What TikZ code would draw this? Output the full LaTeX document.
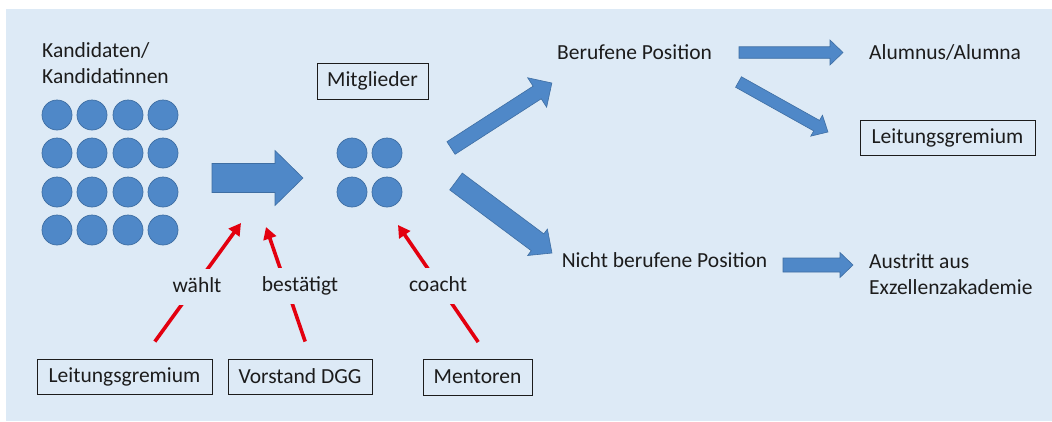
\documentclass[tikz,border=0pt]{standalone}
\usepackage{fontspec}
\setmainfont{Carlito}
\usetikzlibrary{arrows.meta}
\pgfdeclarelayer{back}\pgfdeclarelayer{mid}
\pgfsetlayers{back,mid,main}
\definecolor{bgblue}{HTML}{DDEAF6}
\definecolor{arrfill}{HTML}{4F88C8}
\definecolor{arrline}{HTML}{3E6EA3}
\definecolor{txt}{HTML}{1C1C1C}
\definecolor{redc}{HTML}{E3000F}
\newcommand\blockarrow[7]{%
  \begin{scope}[shift={(#1,#2)},rotate=#3]
    \filldraw[barrow] (0,{-#5/2}) -- ({#4-#7},{-#5/2}) -- ({#4-#7},{-#6/2}) -- (#4,0)
      -- ({#4-#7},{#6/2}) -- ({#4-#7},{#5/2}) -- (0,{#5/2}) -- cycle;
  \end{scope}}
\begin{document}
\begin{tikzpicture}[x=1pt,y=-1pt, font=\fontsize{21.5}{26}\selectfont, text=txt,
  dot/.style={circle, fill=arrfill, draw=arrline, line width=0.7pt, minimum size=30pt, inner sep=0pt},
  lbl/.style={inner sep=0pt, align=left},
  box/.style={draw=txt, line width=0.9pt, inner sep=0pt, minimum height=35pt},
  redline/.style={draw=redc, line width=3.6pt, -{Triangle[length=12pt,width=13pt]}},
  verb/.style={fill=bgblue, inner xsep=3pt, inner ysep=9pt, text height=14pt, text depth=4pt},
  barrow/.style={fill=arrfill, draw=arrline, line width=0.6pt, line join=miter}]
\useasboundingbox (0,0) rectangle (1052,421);
\begin{pgfonlayer}{back}
  \fill[bgblue] (6,9) rectangle (1052,421);
\end{pgfonlayer}

% candidates
\node[lbl, anchor=west] (kand) at (42,63) {Kandidaten/\\Kandidatinnen};
\foreach \i/\x in {1/57,2/92,3/128,4/163}
  \foreach \j/\y in {1/115,2/153,3/192,4/230}
    \node[dot] (k\i\j) at (\x,\y) {};

% members
\node[box, minimum width=111pt, minimum height=36pt] (mit) at (372.5,81) {Mitglieder};
\foreach \i/\x in {1/352,2/387}
  \foreach \j/\y in {1/153,2/192}
    \node[dot] (m\i\j) at (\x,\y) {};

% right side texts
\node[lbl] (ber) at (634.5,52) {Berufene Position};
\node[lbl, anchor=west] (alu) at (869,52) {Alumnus/Alumna};
\node[box, minimum width=175pt] (lg2) at (947.5,138) {Leitungsgremium};
\node[lbl] (nber) at (664.5,260) {Nicht berufene Position};
\node[lbl, anchor=west] (aus) at (869,274) {Austritt aus\\Exzellenzakademie};

% block arrows
\blockarrow{212}{178}{0}{91}{29}{55}{28}
\blockarrow{451}{148}{32.8}{120}{15}{35}{17.5}
\blockarrow{738.5}{82}{-29.2}{102.5}{12}{24}{13}
\blockarrow{739}{52.5}{0}{104}{11.5}{25}{13}
\blockarrow{456}{181.5}{-36.7}{119.7}{21}{33}{18}
\blockarrow{783}{265}{0}{70}{14}{25}{13}

% bottom boxes
\node[box, minimum width=175pt] (lgb) at (124.5,376.5) {Leitungsgremium};
\node[box, minimum width=144pt] (vd) at (300,376.5) {Vorstand DGG};
\node[box, minimum width=109pt, minimum height=36pt] (men) at (477.5,377) {Mentoren};

% arrow targets
\coordinate (w1) at (241,223);
\coordinate (b1) at (266,227);
\coordinate (c1) at (398,225);

% verbs
\node[verb] (vw) at (197,287) {wählt};
\node[verb] (vb) at (300,286) {bestätigt};
\node[verb] (vc) at (438,286) {coacht};

\begin{pgfonlayer}{mid}
  \draw[redline, shorten <=21pt] ([xshift=18pt]lgb.north) -- (w1);
  \draw[redline, shorten <=18pt] ([xshift=11pt]vd.north) -- (b1);
  \draw[redline, shorten <=20pt] ([xshift=12pt]men.north) -- (c1);
\end{pgfonlayer}
\end{tikzpicture}
\end{document}
